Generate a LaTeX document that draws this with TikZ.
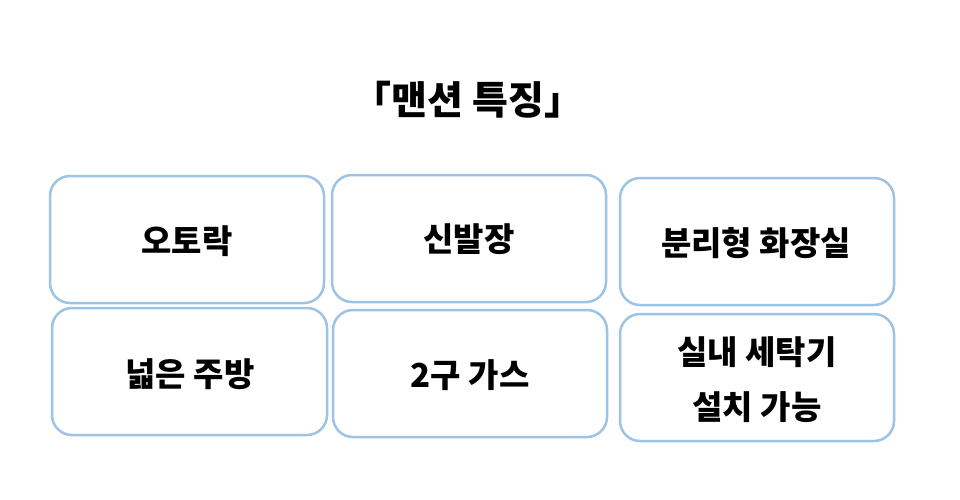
\documentclass[tikz,border=0pt]{standalone}
\usepackage{fontspec}
\setmainfont{Noto Sans CJK KR}
\definecolor{boxblue}{RGB}{157,195,230}
\begin{document}
\begin{tikzpicture}[x=1pt,y=-1pt,
  featbox/.style={draw=boxblue,line width=2.5pt,rounded corners=20pt,fill=white},
  feattext/.style={font=\fontsize{33}{55}\selectfont\bfseries,align=center,inner sep=0pt}]
\useasboundingbox (0,0) rectangle (960,499);
\node[font=\fontsize{39}{44}\selectfont\bfseries,inner sep=0pt] (title) at (468,100) {「맨션 특징」};
\draw[featbox] (50,176) rectangle (324,303);
\draw[featbox] (332,175) rectangle (606,302);
\draw[featbox] (620,178) rectangle (894,305);
\draw[featbox] (52,308) rectangle (327,435);
\draw[featbox] (333,310) rectangle (607,437);
\draw[featbox] (620,314) rectangle (894,441);
\node[feattext] (t1) at (187,241) {오토락};
\node[feattext] (t2) at (469,239) {신발장};
\node[feattext] (t3) at (756,243) {분리형 화장실};
\node[feattext] (t4) at (190,374) {넓은 주방};
\node[feattext] (t5) at (470,375) {2구 가스};
\node[feattext] (t6) at (757,380) {실내 세탁기\\설치 가능};
\end{tikzpicture}
\end{document}
